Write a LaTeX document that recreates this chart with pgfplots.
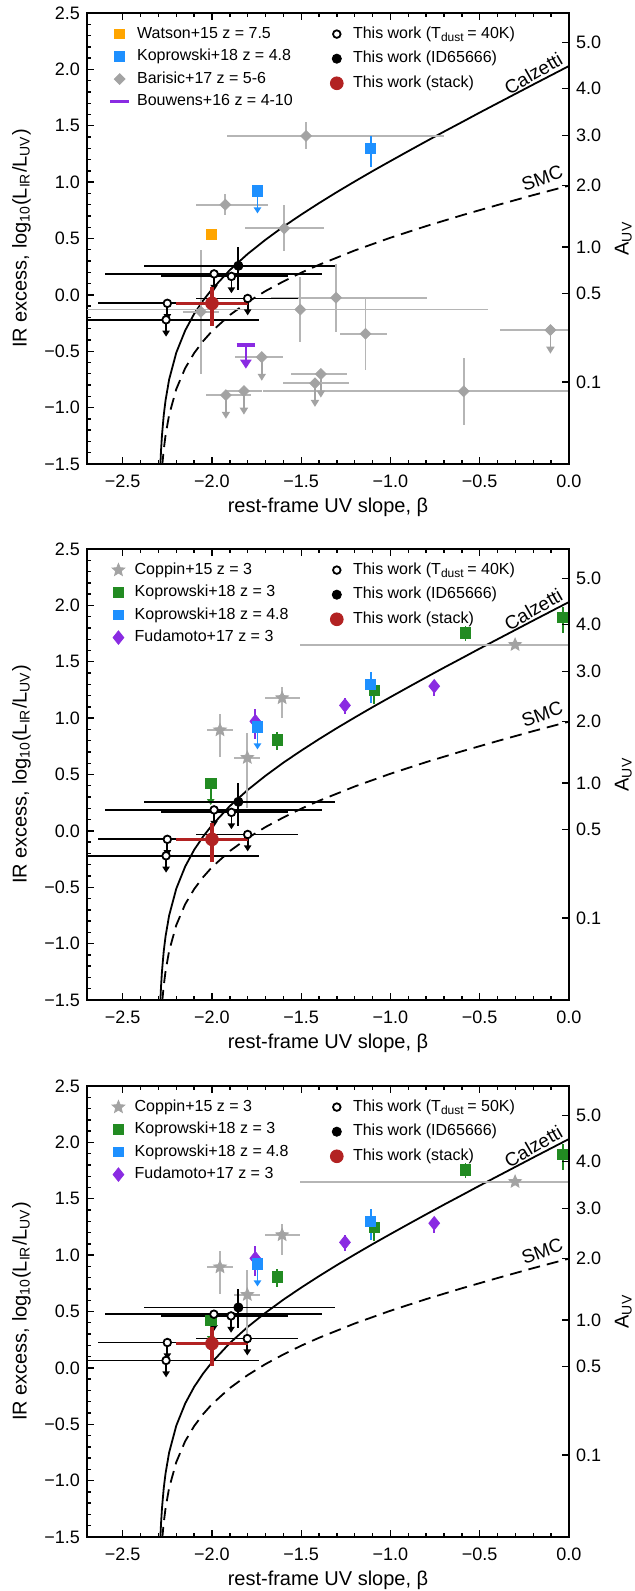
\documentclass[border=0pt]{standalone}
\usepackage{fontspec}
\setmainfont{Liberation Sans}
\setsansfont{Liberation Sans}
\usepackage{pgfplots}
\pgfplotsset{compat=1.18}
\usepackage{pgfplotstable}
\usetikzlibrary{arrows.meta}

\definecolor{cgrey}{HTML}{A3A3A3}
\definecolor{cgreybar}{HTML}{B5B5B5}
\definecolor{corange}{HTML}{FFA500}
\definecolor{cblue}{HTML}{1E90FF}
\definecolor{cgreen}{HTML}{228B22}
\definecolor{cpurple}{HTML}{8A2BE2}
\definecolor{cred}{HTML}{B22222}

% filled five-pointed star
\pgfdeclareplotmark{fstar}{%
  \pgfpathmoveto{\pgfpointpolar{90}{\pgfplotmarksize}}%
  \pgfpathlineto{\pgfpointpolar{126}{0.45\pgfplotmarksize}}%
  \pgfpathlineto{\pgfpointpolar{162}{\pgfplotmarksize}}%
  \pgfpathlineto{\pgfpointpolar{198}{0.45\pgfplotmarksize}}%
  \pgfpathlineto{\pgfpointpolar{234}{\pgfplotmarksize}}%
  \pgfpathlineto{\pgfpointpolar{270}{0.45\pgfplotmarksize}}%
  \pgfpathlineto{\pgfpointpolar{306}{\pgfplotmarksize}}%
  \pgfpathlineto{\pgfpointpolar{342}{0.45\pgfplotmarksize}}%
  \pgfpathlineto{\pgfpointpolar{18}{\pgfplotmarksize}}%
  \pgfpathlineto{\pgfpointpolar{54}{0.45\pgfplotmarksize}}%
  \pgfpathclose
  \pgfusepathqfillstroke
}

% model curves (Calzetti solid, SMC dashed), read off the figure
\pgfplotstableread{
b irx
-2.291 -1.545
-2.289 -1.508
-2.288 -1.470
-2.285 -1.372
-2.280 -1.245
-2.270 -1.065
-2.260 -0.936
-2.240 -0.751
-2.200 -0.513
-2.150 -0.316
-2.100 -0.169
-2.050 -0.051
-2.000 0.050
-1.900 0.220
-1.800 0.363
-1.700 0.489
-1.600 0.605
-1.500 0.712
-1.400 0.814
-1.300 0.912
-1.200 1.006
-1.100 1.098
-1.000 1.187
-0.900 1.275
-0.800 1.362
-0.700 1.448
-0.600 1.532
-0.500 1.617
-0.400 1.700
-0.300 1.783
-0.200 1.866
-0.100 1.948
0.000 2.030
}\calz

\pgfplotstableread{
b irx
-2.2785 -1.517
-2.277 -1.487
-2.270 -1.371
-2.260 -1.244
-2.240 -1.065
-2.200 -0.836
-2.150 -0.650
-2.100 -0.517
-2.050 -0.411
-2.000 -0.322
-1.900 -0.179
-1.800 -0.064
-1.700 0.034
-1.600 0.119
-1.500 0.197
-1.400 0.267
-1.200 0.394
-1.000 0.507
-0.800 0.610
-0.600 0.706
-0.400 0.797
-0.200 0.885
0.000 0.969
}\smc

% Barisic+17
\pgfplotstableread{
x y exm exp eym eyp
-1.473 1.410 0.44 0.77 0.12 0.12
-1.925 0.800 0.165 0.24 0.095 0.095
-1.595 0.590 0.22 0.22 0.205 0.205
-2.062 -0.150 0.10 0.10 0.55 0.55
-1.505 -0.130 1.25 1.05 0.29 0.29
-1.305 -0.025 0.365 0.51 0.30 0.30
-1.140 -0.345 0.14 0.12 0.325 0.325
-0.590 -0.855 1.125 0.60 0.295 0.295
}\barisic
\pgfplotstableread{
x y exm exp v
-0.104 -0.312 0.28 0.30 -0.21
-1.721 -0.552 0.15 0.12 -0.21
-1.390 -0.702 0.17 0.145 -0.21
-1.423 -0.784 0.18 0.19 -0.21
-1.821 -0.853 0.10 0.10 -0.21
-1.922 -0.889 0.11 0.14 -0.21
}\barisicul

\pgfplotstableread{
x y
-2.005 0.538
}\watson

% Koprowski+18 z = 4.8
\pgfplotstableread{
x y eym eyp
-1.111 1.298 0.165 0.11
}\kopb
\pgfplotstableread{
x y v
-1.745 0.922 -0.20
}\kopbul

% Bouwens+16
\pgfplotstableread{
x y
-1.862 -0.445
-1.758 -0.445
}\bouwens
\pgfplotstableread{
x y v
-1.810 -0.445 -0.21
}\bouwensul

% Coppin+15
\pgfplotstableread{
x y exm exp eym eyp
-1.955 0.894 0.075 0.075 0.236 0.144
-1.802 0.649 0.073 0.070 0.449 0.218
-1.607 1.179 0.098 0.100 0.174 0.098
-0.302 1.651 1.203 1.200 0.0 0.0
}\coppin

% Koprowski+18 z = 3
\pgfplotstableread{
x y eym eyp
-1.634 0.808 0.090 0.065
-1.091 1.247 0.119 0.060
-0.580 1.756 0.075 0.060
-0.034 1.891 0.135 0.095
}\kopg
\pgfplotstableread{
x y v
-2.007 0.419 -0.19
}\kopgul

% Fudamoto+17
\pgfplotstableread{
x y eym eyp
-1.757 0.972 0.158 0.111
-1.255 1.113 0.075 0.066
-0.755 1.283 0.089 0.054
}\fuda

% This work, Tdust = 40K
\pgfplotstableread{
x y exm exp v
-1.988 0.186 0.612 0.604 -0.15
-1.891 0.164 0.392 0.318 -0.15
-2.250 -0.075 0.390 0.390 -0.15
-2.257 -0.221 0.520 0.520 -0.15
-1.800 -0.032 0.290 0.283 -0.15
}\twA
\pgfplotstableread{
x y exm exp eym eyp
-1.852 0.258 0.531 0.541 0.216 0.168
}\idA
\pgfplotstableread{
x y exm exp eym eyp
-2.000 -0.075 0.20 0.20 0.205 0.145
}\stA

% This work, Tdust = 50K
\pgfplotstableread{
x y exm exp v
-1.989 0.476 0.612 0.604 -0.15
-1.893 0.461 0.392 0.318 -0.15
-2.250 0.225 0.390 0.390 -0.15
-2.257 0.066 0.520 0.520 -0.15
-1.802 0.260 0.290 0.283 -0.15
}\twB
\pgfplotstableread{
x y exm exp eym eyp
-1.852 0.536 0.531 0.541 0.186 0.168
}\idB
\pgfplotstableread{
x y exm exp eym eyp
-2.000 0.216 0.20 0.20 0.195 0.143
}\stB

\pgfplotsset{
  legend image code/.code={%
    \pgfpathmoveto{\pgfpoint{0cm}{-2pt}}\pgfpathmoveto{\pgfpoint{0.36cm}{2pt}}\pgfusepath{}%
    \draw[#1] plot coordinates {(0.18cm,0cm)};},
  panel/.style={
    scale only axis, width=241pt, height=225.5pt,
    xmin=-2.7, xmax=0, ymin=-1.5, ymax=2.5,
  },
  mainax/.style={
    panel,
    xtick={-2.5,-2,-1.5,-1,-0.5,0},
    xticklabels={−2.5,−2.0,−1.5,−1.0,−0.5,0.0},
    ytick={-1.5,-1,-0.5,0,0.5,1,1.5,2,2.5},
    yticklabels={−1.5,−1.0,−0.5,0.0,0.5,1.0,1.5,2.0,2.5},
    minor x tick num=4, minor y tick num=4,
    tick align=inside, xtick pos=both, ytick pos=left,
    major tick length=3.4pt, minor tick length=1.8pt,
    every tick/.style={black, line width=0.7pt},
    axis line style={line width=0.9pt},
    tick label style={font=\fontsize{9}{10}\selectfont},
    xticklabel style={anchor=base, yshift=-11.8pt},
    label style={font=\fontsize{10}{12}\selectfont},
    xlabel style={at={(axis description cs:0.5,0)}, anchor=base, yshift=-24.3pt},
    xlabel={rest-frame UV slope, β},
    ylabel={IR excess, log\textsubscript{10}(L\textsubscript{IR}/L\textsubscript{UV})},
    legend style={at={(0.044,0.971)}, anchor=north west, draw=none, fill=none,
      inner sep=0pt, outer sep=0pt, font=\fontsize{8}{9.6}\selectfont, row sep=3.25pt,
      nodes={inner xsep=3pt, inner ysep=0pt, text height=6pt, text depth=2pt}},
    legend cell align=left,
  },
  rightax/.style={
    panel, hide x axis, axis y line*=right,
    ytick={-0.772,0.010,0.423,0.968,1.415,1.832,2.239},
    yticklabels={0.1,0.5,1.0,2.0,3.0,4.0,5.0},
    tick align=inside, major tick length=3.7pt,
    every tick/.style={black, line width=0.7pt},
    axis line style={line width=0.9pt},
    tick label style={font=\fontsize{9}{10}\selectfont},
    label style={font=\fontsize{10}{12}\selectfont},
    ylabel={A\textsubscript{UV}},
    legend style={at={(0.497,0.971)}, anchor=north west, draw=none, fill=none,
      inner sep=0pt, outer sep=0pt, font=\fontsize{8}{9.6}\selectfont, row sep=4.3pt,
      nodes={inner xsep=3pt, inner ysep=0pt, text height=6pt, text depth=2pt}},
    legend cell align=left,
  },
  errxy/.style={error bars/.cd, x dir=both, x explicit, y dir=both, y explicit, error mark=none},
  errx/.style={error bars/.cd, x dir=both, x explicit, error mark=none},
  erry/.style={error bars/.cd, y dir=both, y explicit, error mark=none},
}

\newcommand\curves{%
  \addplot[black, line width=0.9pt, forget plot] table[x=b,y=irx]{\calz};
  \addplot[black, line width=0.9pt, dash pattern=on 6pt off 3.5pt, forget plot] table[x=b,y=irx]{\smc};
  \node[rotate=30, font=\fontsize{9.5}{11}\selectfont] at (axis cs:-0.20,1.965) {Calzetti};
  \node[rotate=20, font=\fontsize{9.5}{11}\selectfont] at (axis cs:-0.15,1.035) {SMC};
}

\newcommand\thiswork[3]{%
  \addplot[black, line width=0.9pt, forget plot, -{Triangle[length=3pt,width=3.6pt]},
    quiver={u=0,v=\thisrow{v}}] table[x=x,y=y]{#1};
  \addplot[only marks, mark=*, mark size=1.9pt, mark options={fill=white, draw=black, line width=0.9pt},
    forget plot, errx, error bar style={black, line width=0.9pt}]
    table[x=x,y=y,x error minus=exm,x error plus=exp]{#1};
  \addplot[only marks, mark=*, mark size=2.3pt, black, forget plot, errxy,
    error bar style={black, line width=0.9pt}]
    table[x=x,y=y,x error minus=exm,x error plus=exp,y error minus=eym,y error plus=eyp]{#2};
  \addplot[only marks, mark=*, mark size=3.2pt, cred, forget plot, errxy,
    error bar style={cred, line width=1.6pt}]
    table[x=x,y=y,x error minus=exm,x error plus=exp,y error minus=eym,y error plus=eyp]{#3};
}

\newcommand\rightlegend[2]{%
  \begin{axis}[rightax, at={#1}, anchor=north west]
    \addlegendimage{mark=*, mark size=1.9pt, mark options={fill=white, draw=black, line width=0.9pt}}
    \addlegendentry{This work (T\textsubscript{dust}\,= #2)}
    \addlegendimage{mark=*, mark size=2.3pt, black}
    \addlegendentry{This work (ID65666)}
    \addlegendimage{mark=*, mark size=3.2pt, cred}
    \addlegendentry{This work (stack)}
  \end{axis}
}

\newcommand\zthree{%
  \addplot[only marks, mark=fstar, mark size=3.3pt, cgrey, forget plot, errxy,
    error bar style={cgreybar, line width=0.9pt}]
    table[x=x,y=y,x error minus=exm,x error plus=exp,y error minus=eym,y error plus=eyp]{\coppin};
  \addplot[cgreen, line width=0.9pt, forget plot, -{Triangle[length=3pt,width=3.6pt]},
    quiver={u=0,v=\thisrow{v}}] table[x=x,y=y]{\kopgul};
  \addplot[only marks, mark=square*, mark size=2.6pt, cgreen, forget plot] table[x=x,y=y]{\kopgul};
  \addplot[only marks, mark=square*, mark size=2.6pt, cgreen, forget plot, erry,
    error bar style={cgreen, line width=0.9pt}]
    table[x=x,y=y,y error minus=eym,y error plus=eyp]{\kopg};
  \addplot[only marks, mark=square*, mark size=1.9pt, mark options={yscale=1.25, rotate=45}, cpurple, forget plot, erry,
    error bar style={cpurple, line width=0.9pt}]
    table[x=x,y=y,y error minus=eym,y error plus=eyp]{\fuda};
  \addplot[cblue, line width=0.9pt, forget plot, -{Triangle[length=3pt,width=3.6pt]},
    quiver={u=0,v=\thisrow{v}}] table[x=x,y=y]{\kopbul};
  \addplot[only marks, mark=square*, mark size=2.6pt, cblue, forget plot] table[x=x,y=y]{\kopbul};
  \addplot[only marks, mark=square*, mark size=2.6pt, cblue, forget plot, erry,
    error bar style={cblue, line width=0.9pt}]
    table[x=x,y=y,y error minus=eym,y error plus=eyp]{\kopb};
  \addlegendimage{mark=fstar, mark size=3.3pt, cgrey}
  \addlegendentry{Coppin+15 z = 3}
  \addlegendimage{mark=square*, mark size=2.4pt, cgreen}
  \addlegendentry{Koprowski+18 z = 3}
  \addlegendimage{mark=square*, mark size=2.4pt, cblue}
  \addlegendentry{Koprowski+18 z = 4.8}
  \addlegendimage{mark=square*, mark size=1.9pt, mark options={yscale=1.25, rotate=45}, cpurple}
  \addlegendentry{Fudamoto+17 z = 3}
}

\begin{document}
\begin{tikzpicture}

% ---------- top panel ----------
\begin{axis}[mainax, at={(43.5pt,-6.5pt)}, anchor=north west]
  \curves
  \addplot[only marks, mark=square*, mark size=1.9pt, mark options={rotate=45}, cgrey, forget plot, errxy,
    error bar style={cgreybar, line width=0.9pt}]
    table[x=x,y=y,x error minus=exm,x error plus=exp,y error minus=eym,y error plus=eyp]{\barisic};
  \addplot[cgrey, line width=0.9pt, forget plot, -{Triangle[length=3.5pt,width=4pt]},
    quiver={u=0,v=\thisrow{v}}] table[x=x,y=y]{\barisicul};
  \addplot[only marks, mark=square*, mark size=1.9pt, mark options={rotate=45}, cgrey, forget plot, errx,
    error bar style={cgreybar, line width=0.9pt}]
    table[x=x,y=y,x error minus=exm,x error plus=exp]{\barisicul};
  \addplot[only marks, mark=square*, mark size=2.5pt, corange, forget plot] table[x=x,y=y]{\watson};
  \addplot[cblue, line width=0.9pt, forget plot, -{Triangle[length=3pt,width=3.6pt]},
    quiver={u=0,v=\thisrow{v}}] table[x=x,y=y]{\kopbul};
  \addplot[only marks, mark=square*, mark size=2.6pt, cblue, forget plot] table[x=x,y=y]{\kopbul};
  \addplot[only marks, mark=square*, mark size=2.6pt, cblue, forget plot, erry,
    error bar style={cblue, line width=0.9pt}]
    table[x=x,y=y,y error minus=eym,y error plus=eyp]{\kopb};
  \addplot[cpurple, line width=1.8pt, forget plot] table[x=x,y=y]{\bouwens};
  \addplot[cpurple, line width=1.2pt, forget plot, -{Triangle[length=4.5pt,width=5.5pt]},
    quiver={u=0,v=\thisrow{v}}] table[x=x,y=y]{\bouwensul};
  \thiswork{\twA}{\idA}{\stA}
  \addlegendimage{mark=square*, mark size=2.4pt, corange}
  \addlegendentry{Watson+15 z = 7.5}
  \addlegendimage{mark=square*, mark size=2.4pt, cblue}
  \addlegendentry{Koprowski+18 z = 4.8}
  \addlegendimage{mark=square*, mark size=1.9pt, mark options={rotate=45}, cgrey}
  \addlegendentry{Barisic+17 z = 5-6}
  \addlegendimage{legend image code/.code={%
    \pgfpathmoveto{\pgfpoint{0cm}{-2pt}}\pgfpathmoveto{\pgfpoint{0.36cm}{2pt}}\pgfusepath{}%
    \draw[cpurple, line width=1.8pt] (0.01cm,0cm) -- (0.35cm,0cm);}}
  \addlegendentry{Bouwens+16 z = 4-10}
\end{axis}
\rightlegend{(43.5pt,-6.5pt)}{40K}

% ---------- middle panel ----------
\begin{axis}[mainax, at={(43.5pt,-274.5pt)}, anchor=north west]
  \curves
  \zthree
  \thiswork{\twA}{\idA}{\stA}
\end{axis}
\rightlegend{(43.5pt,-274.5pt)}{40K}

% ---------- bottom panel ----------
\begin{axis}[mainax, at={(43.5pt,-543pt)}, anchor=north west]
  \curves
  \zthree
  \thiswork{\twB}{\idB}{\stB}
\end{axis}
\rightlegend{(43.5pt,-543pt)}{50K}

\pgfresetboundingbox
\useasboundingbox (0,0) rectangle (317.5pt,-795.5pt);
\end{tikzpicture}
\end{document}
